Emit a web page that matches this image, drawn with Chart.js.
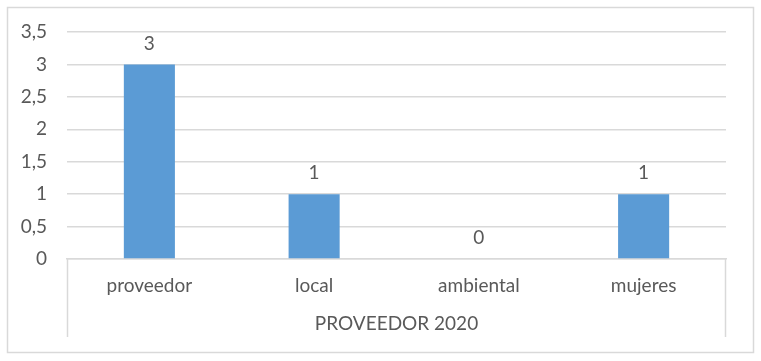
<!DOCTYPE html>
<html>
<head>
<meta charset="utf-8">
<script src="https://cdn.jsdelivr.net/npm/chart.js@4"></script>
<style>
html,body{margin:0;padding:0;background:#fff;}
#wrap{width:761px;height:361px;position:relative;}
</style>
</head>
<body>
<div id="wrap"><canvas id="c" width="761" height="361"></canvas></div>
<script>
const categories = ["proveedor", "local", "ambiental", "mujeres"];
const values = [3, 1, 0, 1];
const groupLabel = "PROVEEDOR 2020";
const yMin = 0, yMax = 3.5, yStep = 0.5;

const TEXT = '#595959';
const GRID = '#D9D9D9';
const FONT = {family: "Lato, 'Open Sans', sans-serif", size: 19};

const framePlugin = {
  id: 'frame',
  beforeDraw(chart){
    const ctx = chart.ctx;
    ctx.save();
    ctx.fillStyle = '#fff';
    ctx.fillRect(0,0,chart.width,chart.height);
    ctx.strokeStyle = GRID;
    ctx.lineWidth = 1.5;
    ctx.strokeRect(7.5, 7.5, chart.width - 15, chart.height - 16);
    ctx.restore();
  },
  afterDraw(chart){
    const ctx = chart.ctx;
    const a = chart.chartArea;
    ctx.save();
    ctx.strokeStyle = GRID;
    ctx.lineWidth = 1.5;
    ctx.beginPath();
    ctx.moveTo(Math.round(a.left)+0.5, a.bottom);
    ctx.lineTo(Math.round(a.left)+0.5, a.bottom + 78);
    ctx.moveTo(Math.round(a.right)-0.5, a.bottom);
    ctx.lineTo(Math.round(a.right)-0.5, a.bottom + 78);
    ctx.stroke();
    ctx.restore();
  },
  afterDatasetsDraw(chart){
    const ctx = chart.ctx;
    ctx.save();
    ctx.font = "19px Lato, 'Open Sans', sans-serif";
    ctx.fillStyle = TEXT;
    ctx.textAlign = 'center';
    ctx.textBaseline = 'middle';
    const meta = chart.getDatasetMeta(0);
    meta.data.forEach((el, i) => {
      ctx.fillText(String(values[i]).replace('.', ','), el.x, el.y - 21);
    });
    ctx.restore();
  }
};

new Chart(document.getElementById('c'), {
  type: 'bar',
  data: {
    labels: categories,
    datasets: [{
      data: values,
      backgroundColor: '#5B9BD5',
      borderWidth: 0,
      barPercentage: 0.31,
      categoryPercentage: 1
    }]
  },
  options: {
    responsive: false,
    animation: false,
    devicePixelRatio: 1,
    layout: {padding: {left: 0, right: 35, top: 32, bottom: 0}},
    plugins: {legend: {display: false}, tooltip: {enabled: false}},
    scales: {
      y: {
        min: yMin, max: yMax,
        afterFit(s){ s.width = 67; },
        ticks: {
          stepSize: yStep,
          color: TEXT,
          font: FONT,
          padding: 20,
          callback: v => String(v).replace('.', ',')
        },
        grid: {color: GRID, lineWidth: 1.5, drawTicks: false},
        border: {display: false}
      },
      x: {
        afterFit(s){ s.height = 102; },
        grid: {display: false, drawTicks: false},
        border: {display: true, color: GRID, width: 1.5},
        ticks: {color: TEXT, font: FONT, padding: 15, maxRotation: 0},
        title: {
          display: true,
          text: groupLabel,
          color: TEXT,
          font: FONT,
          padding: {top: 0, bottom: 26}
        }
      }
    }
  },
  plugins: [framePlugin]
});
</script>
</body>
</html>
